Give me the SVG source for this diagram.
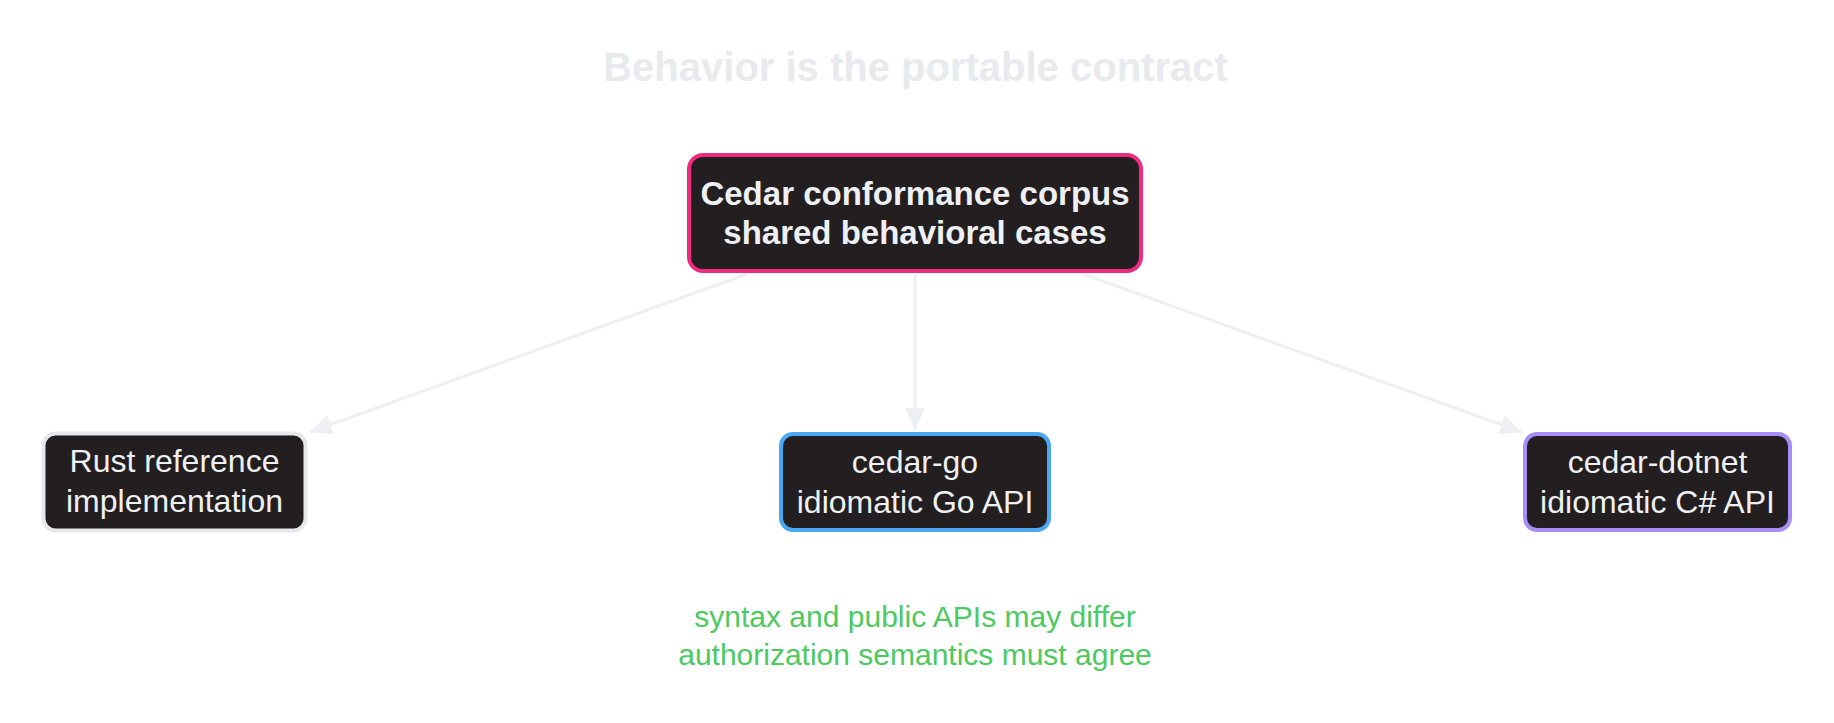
<svg xmlns="http://www.w3.org/2000/svg" width="1834" height="723" viewBox="0 0 1834 723">
<style>
.node{fill:#231f20;stroke-width:4}
.t{font-family:"Liberation Sans",Arial,sans-serif;fill:#eef0f3;text-anchor:middle;font-size:32px}
.b{font-weight:bold;font-size:33px}
.edge{stroke:#eeeff2;stroke-width:3;fill:none}
.note{font-family:"Liberation Sans",Arial,sans-serif;font-size:30px;fill:#4cc95f;text-anchor:middle}
</style>
<defs>
<marker id="arr" markerUnits="userSpaceOnUse" markerWidth="24" markerHeight="22" refX="22" refY="10" orient="auto">
<path d="M0,0 L22,10 L0,20 z" fill="#eeeff2"/>
</marker>
</defs>
<rect width="1834" height="723" fill="#ffffff"/>
<text x="915.5" y="81" font-family="Liberation Sans,Arial,sans-serif" font-weight="bold" font-size="40" fill="#e8eaee" text-anchor="middle">Behavior is the portable contract</text>
<g id="connectors">
<line class="edge" x1="747" y1="274" x2="310" y2="432" marker-end="url(#arr)"/>
<line class="edge" x1="915" y1="274" x2="915" y2="430" marker-end="url(#arr)"/>
<line class="edge" x1="1083" y1="274" x2="1522" y2="432" marker-end="url(#arr)"/>
</g>
<g id="corpus">
<rect class="node" x="689" y="155" width="452" height="116" rx="14" stroke="#f02a80"/>
<text class="t b" x="915" y="205">Cedar conformance corpus</text>
<text class="t b" x="915" y="244">shared behavioral cases</text>
</g>
<g id="rust">
<rect class="node" x="43.5" y="433.5" width="262" height="97" rx="12" stroke="#e6e8ec" stroke-width="3"/>
<text class="t" x="174.5" y="472">Rust reference</text>
<text class="t" x="174.5" y="512">implementation</text>
</g>
<g id="go">
<rect class="node" x="781" y="434" width="268" height="96" rx="12" stroke="#4aa8f2"/>
<text class="t" x="915" y="473">cedar-go</text>
<text class="t" x="915" y="513">idiomatic Go API</text>
</g>
<g id="dotnet">
<rect class="node" x="1525" y="434" width="265" height="96" rx="12" stroke="#a88cf7"/>
<text class="t" x="1657.5" y="473">cedar-dotnet</text>
<text class="t" x="1657.5" y="513">idiomatic C# API</text>
</g>
<g id="note">
<text class="note" x="915" y="627">syntax and public APIs may differ</text>
<text class="note" x="915" y="665">authorization semantics must agree</text>
</g>
</svg>
